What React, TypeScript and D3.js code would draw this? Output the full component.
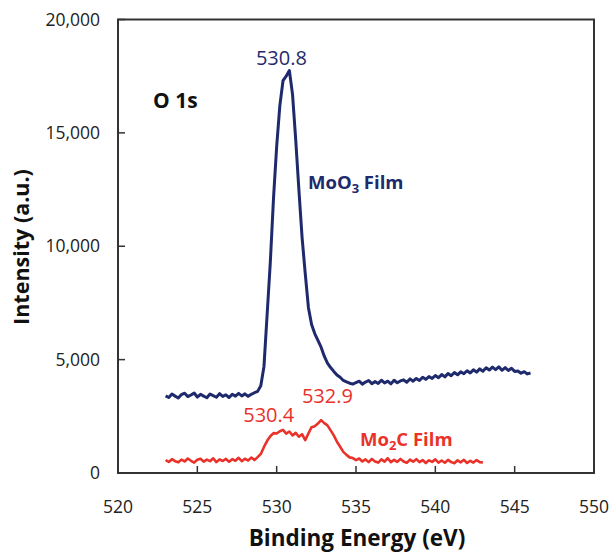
import React from "react";
import * as d3 from "d3";

// Binding energy grid: MoO3 523.0–546.0 eV, Mo2C 523.0–543.0 eV, 0.2 eV step
const moo3Start = 523.0;
const mo2cStart = 523.0;
const stepEv = 0.2;

const moo3Values = [
  3400, 3330, 3480, 3390, 3310, 3460, 3520, 3370, 3440, 3530,
  3350, 3470, 3390, 3320, 3480, 3410, 3340, 3500, 3380, 3450,
  3330, 3470, 3390, 3510, 3400, 3490, 3380, 3470, 3540, 3600,
  3850, 4700, 7000, 9300, 12100, 14400, 16200, 17300, 17500, 17750,
  16700, 14700, 12500, 10400, 8800, 7300, 6550, 6150, 5850, 5550,
  5150, 4850, 4650, 4480, 4320, 4220, 4080, 4020, 3960, 3920,
  3990, 4050, 3920, 4010, 4080, 3940, 4030, 3950, 4090, 3970,
  4050, 3930, 4090, 3980, 4060, 4110, 4000, 4150, 4050, 4170,
  4080, 4220, 4130, 4250, 4170, 4300, 4200, 4340, 4240, 4390,
  4290, 4430, 4330, 4460, 4380, 4510, 4410, 4550, 4450, 4590,
  4490, 4640, 4540, 4670, 4560, 4680, 4530, 4650, 4520, 4620,
  4480, 4500, 4400, 4470, 4370, 4410,
];

const mo2cValues = [
  570, 490, 610, 520, 470, 590, 510, 640, 540, 460,
  580, 630, 500, 590, 520, 650, 480, 600, 530, 620,
  500, 610, 540, 670, 520, 630, 550, 680, 570, 700,
  840, 1150, 1420, 1620, 1760, 1740, 1840, 1900, 1740, 1830,
  1660, 1770, 1600, 1710, 1450, 1740, 2020, 2060, 2180, 2330,
  2200, 2100, 1880, 1660, 1380, 1160, 930, 800, 690, 660,
  570, 640, 510, 600, 480, 620, 510, 460, 600, 500,
  650, 480, 580, 490, 620, 510, 450, 590, 500, 610,
  480, 570, 440, 560, 490, 600, 460, 550, 450, 580,
  480, 430, 560, 470, 580, 440, 540, 460, 570, 480,
  460,
];

const xTicks = [520, 525, 530, 535, 540, 545, 550];
const yTicks = [0, 5000, 10000, 15000, 20000];

const peakLabels = [
  { text: "530.8", x: 530.3, y: 18000, series: "moo3" },
  { text: "530.4", x: 529.5, y: 2250, series: "mo2c" },
  { text: "532.9", x: 533.2, y: 3100, series: "mo2c" },
];

const NAVY = "#1f2a6c";
const RED = "#e8322a";
const FONT = "'Open Sans', sans-serif";

export default function App() {
  const width = 612;
  const height = 552;
  const left = 118;
  const right = 594;
  const top = 19.5;
  const bottom = 473;

  const x = d3.scaleLinear().domain([520, 550]).range([left, right]);
  const y = d3.scaleLinear().domain([0, 20000]).range([bottom, top]);

  const moo3 = moo3Values.map((v, i) => [moo3Start + i * stepEv, v] as [number, number]);
  const mo2c = mo2cValues.map((v, i) => [mo2cStart + i * stepEv, v] as [number, number]);

  const line = d3
    .line<[number, number]>()
    .x((d) => x(d[0]))
    .y((d) => y(d[1]));

  const fmt = d3.format(",");

  return (
    <svg
      width={width}
      height={height}
      style={{ position: "absolute", left: 0, top: 0, background: "#fff" }}
    >
      {/* data */}
      <path d={line(mo2c) ?? ""} fill="none" stroke={RED} strokeWidth={2.6} strokeLinejoin="round" />
      <path d={line(moo3) ?? ""} fill="none" stroke={NAVY} strokeWidth={3} strokeLinejoin="round" />

      {/* frame */}
      <rect x={left} y={top} width={right - left} height={bottom - top} fill="none" stroke="#333" strokeWidth={2} />

      {/* y ticks */}
      {yTicks.map((t) => (
        <g key={"y" + t}>
          <line x1={left} x2={left + 7} y1={y(t)} y2={y(t)} stroke="#333" strokeWidth={1.5} />
          <text
            x={100}
            y={y(t)}
            dy="0.35em"
            textAnchor="end"
            fontFamily={FONT}
            fontSize={17.5}
            fill="#222"
          >
            {fmt(t)}
          </text>
        </g>
      ))}

      {/* x ticks */}
      {xTicks.map((t) => (
        <g key={"x" + t}>
          <line x1={x(t)} x2={x(t)} y1={bottom} y2={bottom - 7} stroke="#333" strokeWidth={1.5} />
          <text x={x(t)} y={513} textAnchor="middle" fontFamily={FONT} fontSize={17.5} fill="#222">
            {t}
          </text>
        </g>
      ))}

      {/* axis titles */}
      <text
        x={357}
        y={546}
        textAnchor="middle"
        fontFamily={FONT}
        fontWeight="bold"
        fontSize={22.5}
        fill="#111"
      >
        Binding Energy (eV)
      </text>
      <text
        transform={`translate(29,247) rotate(-90)`}
        textAnchor="middle"
        fontFamily={FONT}
        fontWeight="bold"
        fontSize={21.5}
        fill="#111"
      >
        Intensity (a.u.)
      </text>

      {/* annotations */}
      <text x={153} y={108} fontFamily={FONT} fontWeight="bold" fontSize={21} fill="#111">
        O 1s
      </text>

      {peakLabels.map((p) => (
        <text
          key={p.text}
          x={x(p.x)}
          y={y(p.y)}
          textAnchor="middle"
          fontFamily={FONT}
          fontSize={20}
          fill={p.series === "moo3" ? NAVY : RED}
        >
          {p.text}
        </text>
      ))}

      <text x={308} y={189} fontFamily={FONT} fontWeight="bold" fontSize={18.5} fill={NAVY}>
        MoO
        <tspan fontSize={13} dy={4}>3</tspan>
        <tspan dy={-4}> Film</tspan>
      </text>
      <text x={360} y={446} fontFamily={FONT} fontWeight="bold" fontSize={18.5} fill={RED}>
        Mo
        <tspan fontSize={13} dy={4}>2</tspan>
        <tspan dy={-4}>C Film</tspan>
      </text>
    </svg>
  );
}
